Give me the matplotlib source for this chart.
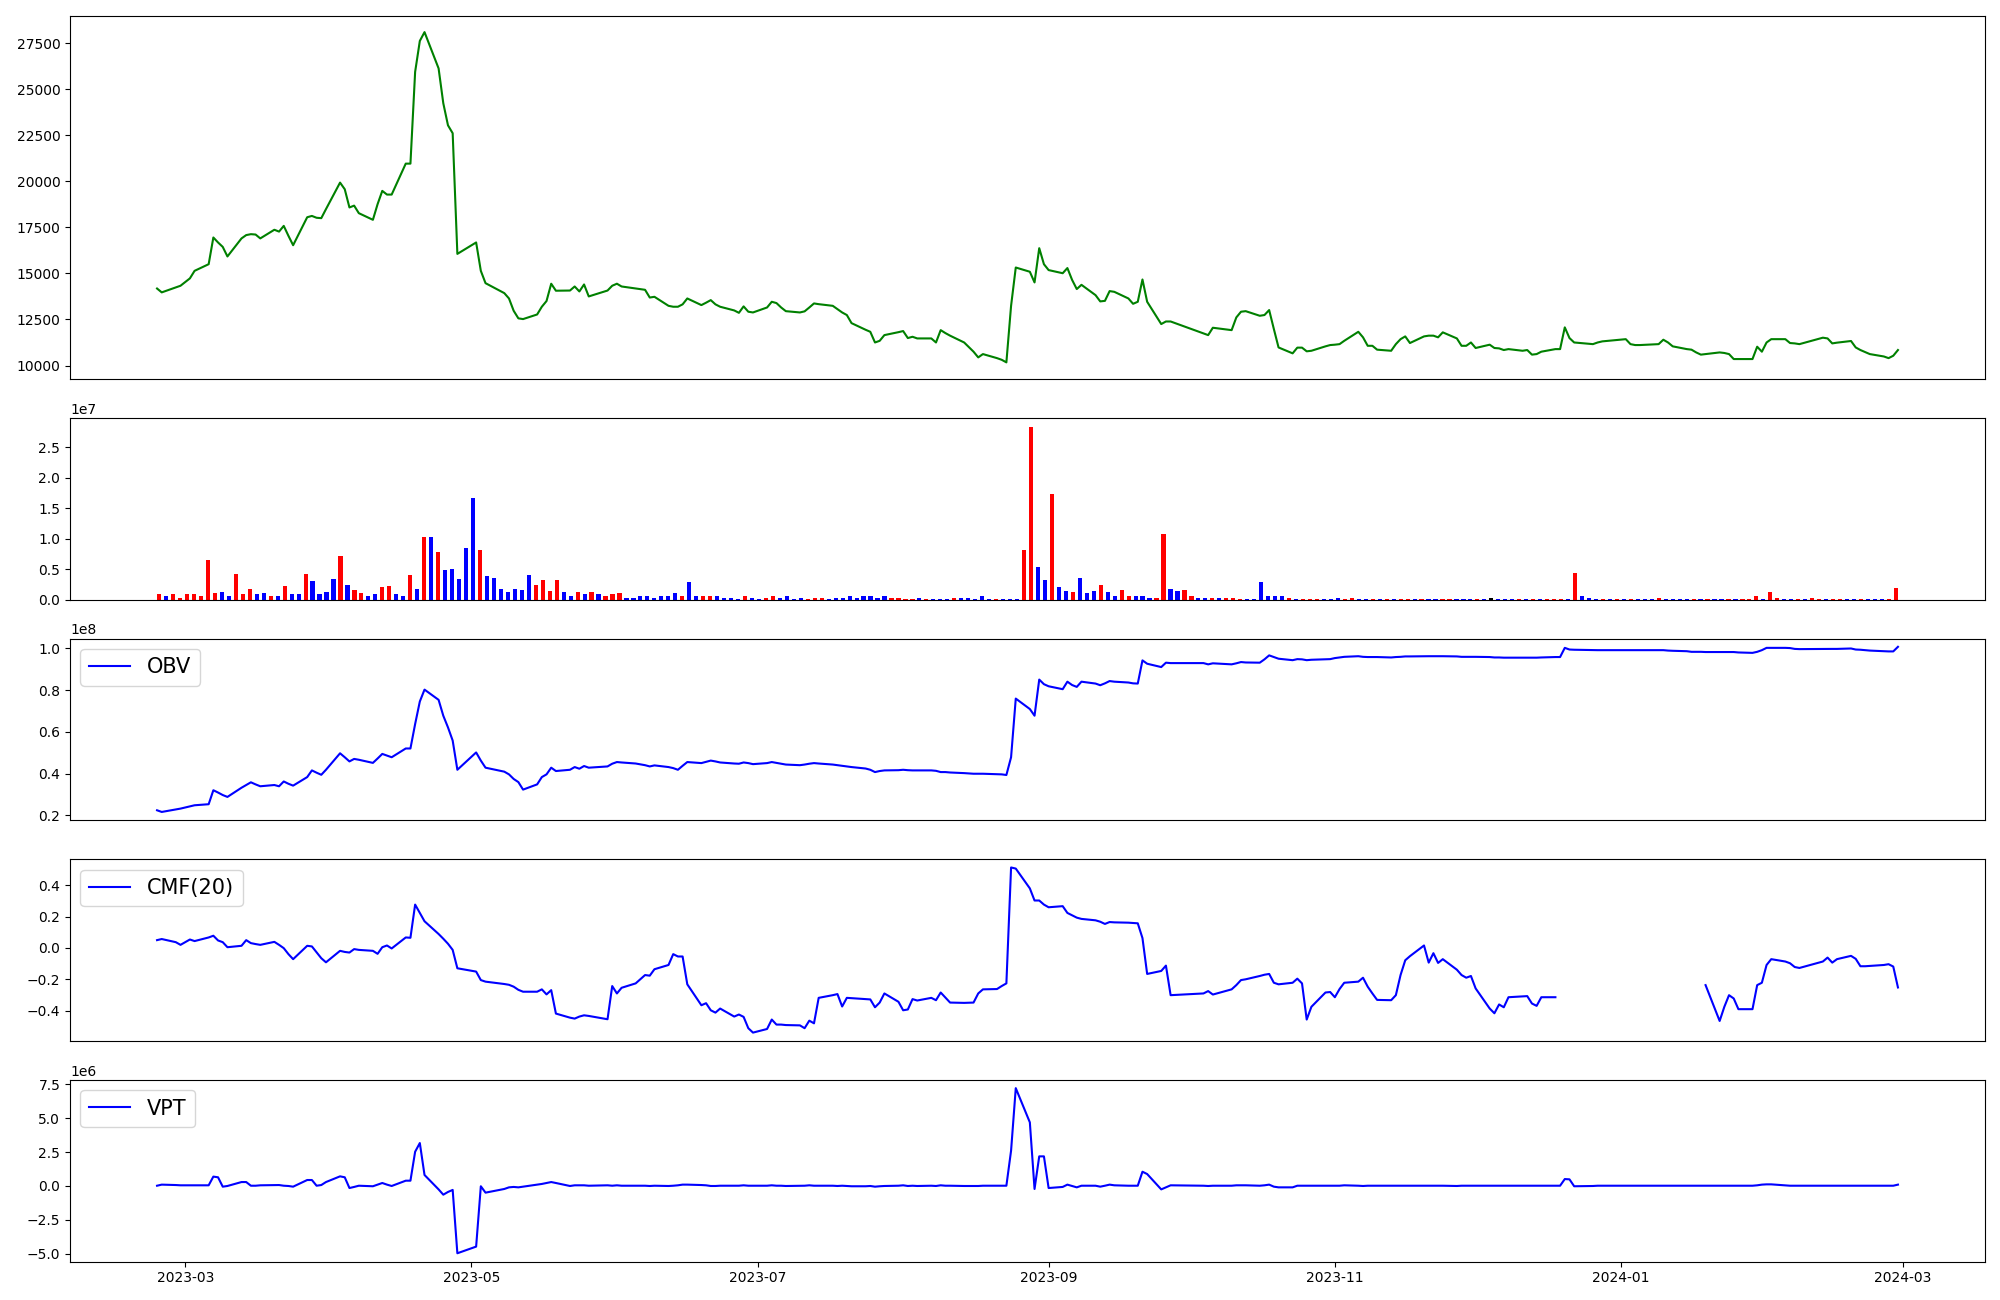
import numpy as np
import pandas as pd
import matplotlib
matplotlib.use('Agg')
from matplotlib import pyplot as plt

# KRX trading calendar, 2023-02-23 .. 2024-02-29
holidays = ['2023-03-01', '2023-05-01', '2023-05-05', '2023-05-29', '2023-06-06',
            '2023-08-15', '2023-09-28', '2023-09-29', '2023-10-02', '2023-10-03',
            '2023-10-09', '2023-12-25', '2023-12-29', '2024-01-01', '2024-02-09',
            '2024-02-12']
dates = pd.bdate_range('2023-02-23', '2024-02-29', freq='C', holidays=holidays)

nan = np.nan

# closing price, one list per month
close_feb23 = [14180, 13970, 14240, 14330]
close_mar23 = [14730, 15140, 15500, 16950, 16680, 16440, 15920, 16900, 17080, 17130, 17110,
               16900, 17370, 17270, 17580, 17040, 16530, 18050, 18120, 18020, 18000, 18490]
close_apr23 = [19930, 19570, 18580, 18680, 18270, 17910, 18760, 19480, 19280, 19280,
               20960, 20960, 25940, 27620, 28100, 26130, 24240, 23040, 22610, 16060]
close_may23 = [16680, 15140, 14470, 13930, 13640, 12970, 12560, 12520, 12770, 13190,
               13500, 14440, 14060, 14070, 14290, 14020, 14400, 13750, 14070, 14330]
close_jun23 = [14440, 14290, 14180, 14110, 13690, 13730, 13240, 13190, 13190, 13320, 13640,
               13280, 13410, 13550, 13320, 13190, 12990, 12860, 13210, 12920, 12880]
close_jul23 = [13150, 13460, 13390, 13150, 12950, 12880, 12940, 13150, 13370, 13330, 13240,
               13060, 12880, 12740, 12300, 11940, 11830, 11250, 11340, 11650, 11810]
close_aug23 = [11870, 11490, 11560, 11470, 11470, 11250, 11920, 11760, 11620, 11250, 10750,
               10440, 10620, 10400, 10310, 10170, 13240, 15320, 15090, 14510, 16370, 15500]
close_sep23 = [15180, 15010, 15290, 14650, 14150, 14380, 13820, 13480, 13510, 14040,
               14000, 13640, 13350, 13460, 14670, 13460, 12250, 12390, 12390]
close_oct23 = [11740, 11650, 12050, 11920, 12610, 12920, 12950, 12700, 12740, 13010,
               11980, 10980, 10660, 10970, 10970, 10770, 10800, 11040, 11110]
close_nov23 = [11130, 11160, 11340, 11830, 11530, 11070, 11070, 10860, 10800, 11160, 11430,
               11580, 11220, 11580, 11620, 11620, 11530, 11800, 11470, 11070, 11070, 11250]
close_dec23 = [10950, 11130, 10950, 10930, 10840, 10890, 10800, 10840, 10590, 10620,
               10750, 10890, 10890, 12070, 11490, 11250, 11160, 11250, 11310]
close_jan24 = [11430, 11160, 11110, 11110, 11150, 11160, 11400, 11250, 11040, 10890, 10860,
               10710, 10590, 10620, 10710, 10680, 10620, 10350, 10350, 10350, 11020, 10750]
close_feb24 = [11250, 11430, 11430, 11220, 11200, 11160, 11510, 11470, 11200, 11240,
               11330, 10980, 10840, 10730, 10620, 10490, 10400, 10530, 10840]

# volume in millions of shares, bar colour per day (R up, B down, K flat)
vol_feb23 = [0.83, 0.5, 0.83, 0.33]
vol_mar23 = [0.83, 0.83, 0.5, 6.48, 1.0, 1.16, 0.66, 4.15, 0.83, 1.66, 0.83,
             1.0, 0.66, 0.66, 2.16, 0.83, 0.83, 4.15, 2.99, 0.83, 1.16, 3.32]
vol_apr23 = [7.14, 2.33, 1.5, 1.0, 0.66, 0.83, 2.0, 2.16, 0.83, 0.66,
             3.99, 1.66, 10.3, 10.3, 7.8, 4.82, 4.98, 3.32, 8.47, 16.6]
vol_may23 = [8.14, 3.82, 3.49, 1.66, 1.16, 1.66, 1.5, 3.99, 2.33, 3.16,
             1.33, 3.16, 1.16, 0.66, 1.16, 0.83, 1.16, 0.83, 0.66, 0.83]
vol_jun23 = [1.0, 0.33, 0.33, 0.5, 0.5, 0.33, 0.5, 0.5, 1.0, 0.66, 2.82,
             0.5, 0.66, 0.5, 0.5, 0.33, 0.33, 0.17, 0.66, 0.33, 0.17]
vol_jul23 = [0.33, 0.5, 0.33, 0.5, 0.17, 0.33, 0.17, 0.33, 0.33, 0.17, 0.33,
             0.33, 0.66, 0.33, 0.5, 0.5, 0.33, 0.66, 0.33, 0.33, 0.17]
vol_aug23 = [0.17, 0.33, 0.17, 0.17, 0.17, 0.17, 0.33, 0.33, 0.33, 0.17, 0.5,
             0.17, 0.17, 0.17, 0.17, 0.17, 8.14, 28.4, 5.3, 3.16, 17.4, 2.0]
vol_sep23 = [1.33, 1.16, 3.49, 1.0, 1.33, 2.33, 1.16, 0.66, 1.5, 0.66,
             0.5, 0.5, 0.33, 0.33, 10.8, 1.66, 1.33, 1.5, 0.5]
vol_oct23 = [0.33, 0.33, 0.33, 0.33, 0.33, 0.33, 0.17, 0.17, 0.17, 2.82,
             0.5, 0.66, 0.5, 0.33, 0.17, 0.17, 0.17, 0.17, 0.17]
vol_nov23 = [0.04, 0.33, 0.17, 0.33, 0.17, 0.17, 0.04, 0.04, 0.04, 0.04, 0.17,
             0.17, 0.17, 0.17, 0.17, 0.04, 0.04, 0.17, 0.17, 0.17, 0.17, 0.17]
vol_dec23 = [0.17, 0.33, 0.17, 0.17, 0.17, 0.04, 0.17, 0.04, 0.17, 0.04,
             0.17, 0.17, 0.04, 4.32, 0.5, 0.33, 0.17, 0.17, 0.04]
vol_jan24 = [0.17, 0.17, 0.04, 0.04, 0.04, 0.17, 0.33, 0.17, 0.17, 0.17, 0.04,
             0.04, 0.04, 0.04, 0.04, 0.04, 0.04, 0.17, 0.04, 0.17, 0.5, 0.17]
vol_feb24 = [1.16, 0.33, 0.17, 0.17, 0.04, 0.17, 0.33, 0.17, 0.17, 0.04,
             0.17, 0.17, 0.17, 0.04, 0.17, 0.17, 0.17, 0.17, 1.83]
bar_dir = ('RBRR'
           'RRRRRBBRRRBBRBRBBRBBBB'
           'RBRRBBRRBBRBRBRBBBBB'
           'RBBBBBBBRRRRBBRBRBRR'
           'RBBBBBBBBRBBRRBBBBRBB'
           'RRBBBBRRRBBBBBBBBBRRR'
           'RBRBBBRBBBBBRBBBRRBBRB'
           'BRBBBRBBRRBBBRRBBRR'
           'BBRBRRRBBBBBBRBRRRB'
           'BBRRBBRBRBRRBRBBRRBBBR'
           'BKBBBRBRBRRRBRBBBRB'
           'RBRBBBRBBBBRBRBBRBRRRB'
           'RRBBRBRRBRRBBRBBBRR')

# on-balance volume, millions
obv_feb23 = [22.5, 21.7, 22.9, 23.3]
obv_mar23 = [24.4, 24.9, 25.4, 32.1, 31.0, 29.8, 28.9, 33.3, 34.6, 35.9, 34.9,
             34.0, 34.6, 34.0, 36.3, 35.2, 34.3, 38.4, 41.6, 40.5, 39.5, 41.9]
obv_apr23 = [49.8, 47.9, 45.9, 47.1, 46.7, 45.2, 47.3, 49.5, 48.7, 47.9,
             52.1, 52.1, 63.8, 74.6, 80.3, 75.4, 67.8, 62.2, 55.9, 41.9]
obv_may23 = [50.2, 46.3, 42.9, 41.0, 39.7, 37.5, 36.0, 32.4, 34.9, 38.4,
             39.7, 42.9, 41.3, 41.9, 43.2, 42.4, 43.7, 42.9, 43.5, 44.8]
obv_jun23 = [45.6, 45.4, 44.9, 44.1, 43.5, 44.0, 43.2, 42.7, 41.9, 43.8, 45.6,
             45.1, 45.7, 46.3, 45.9, 45.4, 44.9, 44.8, 45.4, 45.1, 44.6]
obv_jul23 = [45.1, 45.6, 45.2, 44.8, 44.4, 44.1, 44.4, 44.8, 45.1, 44.9, 44.4,
             44.1, 43.8, 43.5, 43.2, 42.5, 41.9, 40.8, 41.3, 41.6, 41.7]
obv_aug23 = [41.9, 41.7, 41.6, 41.6, 41.6, 41.4, 40.8, 40.8, 40.6, 40.3, 40.0,
             40.0, 40.0, 39.8, 39.7, 39.4, 47.9, 76.0, 71.0, 67.8, 85.1, 82.9]
obv_sep23 = [81.9, 80.5, 84.1, 82.5, 81.6, 84.1, 83.2, 82.4, 83.3, 84.4,
             84.1, 83.7, 83.3, 83.2, 94.3, 92.7, 91.1, 93.2, 93.0]
obv_oct23 = [93.0, 92.4, 92.9, 92.4, 92.9, 93.5, 93.3, 93.2, 94.8, 96.7,
             95.9, 95.1, 94.4, 94.9, 94.8, 94.4, 94.6, 94.8, 94.9]
obv_nov23 = [95.4, 95.7, 96.0, 96.3, 96.0, 95.9, 95.9, 95.9, 95.7, 95.9, 96.0,
             96.2, 96.2, 96.3, 96.3, 96.3, 96.3, 96.3, 96.2, 96.0, 96.0, 96.0]
obv_dec23 = [96.0, 95.9, 95.7, 95.7, 95.6, 95.6, 95.6, 95.6, 95.6, 95.6,
             95.7, 95.9, 95.9, 100.3, 99.5, 99.4, 99.2, 99.2, 99.2]
obv_jan24 = [99.2, 99.2, 99.2, 99.2, 99.2, 99.2, 99.2, 99.0, 98.9, 98.7, 98.4,
             98.4, 98.4, 98.3, 98.3, 98.3, 98.3, 98.3, 98.1, 97.9, 98.4, 99.2]
obv_feb24 = [100.3, 100.3, 100.3, 100.2, 99.8, 99.7, 99.8, 99.8, 99.8, 99.8,
             100.0, 99.5, 99.4, 99.2, 99.0, 98.7, 98.6, 98.6, 100.8]

# Chaikin money flow, 20 days
cmf_feb23 = [0.05, 0.057, 0.037, 0.02]
cmf_mar23 = [0.054, 0.044, 0.067, 0.078, 0.048, 0.037, 0.005, 0.014, 0.05, 0.031, 0.025,
             0.02, 0.039, 0.02, -0.001, -0.039, -0.071, 0.014, 0.01, -0.027, -0.065, -0.091]
cmf_apr23 = [-0.018, -0.025, -0.029, -0.007, -0.012, -0.018, -0.037, 0.005, 0.016, -0.003,
             0.067, 0.065, 0.276, 0.223, 0.17, 0.089, 0.059, 0.027, -0.012, -0.129]
cmf_may23 = [-0.15, -0.204, -0.214, -0.229, -0.234, -0.246, -0.266, -0.278, -0.278, -0.263,
             -0.295, -0.268, -0.417, -0.443, -0.449, -0.436, -0.428, -0.432, -0.453, -0.242]
cmf_jun23 = [-0.289, -0.253, -0.225, -0.172, -0.176, -0.135, -0.108, -0.039, -0.054, -0.054,
             -0.231, -0.364, -0.351, -0.396, -0.411, -0.385, -0.436, -0.423, -0.438, -0.51,
             -0.538]
cmf_jul23 = [-0.515, -0.455, -0.487, -0.487, -0.49, -0.492, -0.51, -0.462, -0.479, -0.317,
             -0.3, -0.293, -0.372, -0.317, -0.319, -0.325, -0.327, -0.377, -0.347, -0.289,
             -0.342]
cmf_aug23 = [-0.396, -0.391, -0.325, -0.334, -0.317, -0.332, -0.283, -0.315, -0.347, -0.349,
             -0.347, -0.289, -0.263, -0.261, -0.242, -0.225, 0.512, 0.505, 0.379, 0.302,
             0.302, 0.276]
cmf_sep23 = [0.259, 0.266, 0.223, 0.208, 0.193, 0.185, 0.176, 0.167, 0.153, 0.165,
             0.163, 0.161, 0.159, 0.157, 0.063, -0.165, -0.146, -0.112, -0.3]
cmf_oct23 = [-0.289, -0.274, -0.296, -0.263, -0.236, -0.204, -0.199, -0.178, -0.17, -0.165,
             -0.221, -0.231, -0.221, -0.195, -0.225, -0.455, -0.374, -0.283, -0.28]
cmf_nov23 = [-0.313, -0.261, -0.221, -0.214, -0.189, -0.246, -0.289, -0.33, -0.332, -0.3,
             -0.172, -0.078, -0.052, 0.016, -0.093, -0.033, -0.095, -0.071, -0.138, -0.172,
             -0.189, -0.178]
cmf_dec23 = [-0.257, -0.385, -0.415, -0.359, -0.377, -0.313, -0.308, -0.306, -0.353, -0.368,
             -0.313, -0.313, nan, nan, nan, nan, nan, nan, nan]
cmf_jan24 = [nan, nan, nan, nan, nan, nan, nan, nan, nan, nan, nan, nan, nan,
             -0.236, -0.464, -0.374, -0.3, -0.321, -0.389, -0.389, -0.236, -0.221]
cmf_feb24 = [-0.108, -0.071, -0.086, -0.097, -0.121, -0.127, -0.086, -0.061, -0.093, -0.071,
             -0.05, -0.069, -0.116, -0.116, -0.114, -0.108, -0.103, -0.118, -0.251]

# volume price trend, millions
vpt_feb23 = [0.02, 0.1, 0.07, 0.05]
vpt_mar23 = [0.05, 0.05, 0.05, 0.69, 0.64, -0.05, 0.0, 0.29, 0.29, 0.02, 0.02,
             0.05, 0.07, 0.07, 0.02, 0.0, -0.05, 0.44, 0.44, 0.02, 0.07, 0.29]
vpt_apr23 = [0.71, 0.64, -0.15, -0.07, 0.02, -0.02, 0.1, 0.22, 0.1, 0.0,
             0.39, 0.39, 2.52, 3.16, 0.81, -0.25, -0.64, -0.44, -0.29, -4.95]
vpt_may23 = [-4.46, -0.02, -0.49, -0.22, -0.1, -0.07, -0.1, -0.05, 0.1, 0.15,
             0.22, 0.29, 0.22, 0.0, 0.05, 0.05, 0.05, 0.02, 0.05, 0.02]
vpt_jun23 = [0.05, 0.02, 0.02, 0.02, 0.0, 0.02, 0.0, 0.02, 0.05, 0.1, 0.1,
             0.07, 0.05, 0.0, 0.0, 0.02, 0.02, 0.02, 0.05, 0.02, 0.02]
vpt_jul23 = [0.02, 0.05, 0.02, 0.02, 0.0, 0.02, 0.02, 0.05, 0.02, 0.02, 0.02,
             0.0, 0.02, 0.0, -0.02, -0.02, 0.0, -0.05, -0.02, 0.0, 0.02]
vpt_aug23 = [0.05, 0.0, 0.02, 0.0, 0.02, 0.0, 0.05, 0.02, 0.02, 0.0, 0.0,
             0.0, 0.02, 0.02, 0.02, 0.02, 2.6, 7.2, 4.68, -0.22, 2.18, 2.18]
vpt_sep23 = [-0.15, -0.07, 0.1, 0.0, -0.1, 0.02, 0.02, -0.05, 0.02, 0.1,
             0.05, 0.02, 0.02, 0.02, 1.05, 0.88, -0.25, -0.1, 0.05]
vpt_oct23 = [0.02, 0.0, 0.02, 0.02, 0.05, 0.05, 0.05, 0.02, 0.05, 0.1,
             -0.05, -0.1, -0.1, 0.02, 0.02, 0.02, 0.02, 0.02, 0.02]
vpt_nov23 = [0.02, 0.02, 0.05, 0.02, 0.0, 0.02, 0.02, 0.02, 0.02, 0.02, 0.02,
             0.02, 0.02, 0.02, 0.02, 0.02, 0.02, 0.02, 0.0, 0.02, 0.02, 0.02]
vpt_dec23 = [0.02, 0.02, 0.02, 0.02, 0.02, 0.02, 0.02, 0.02, 0.02, 0.02,
             0.02, 0.02, 0.02, 0.51, 0.49, -0.02, 0.0, 0.02, 0.02]
vpt_jan24 = [0.02, 0.02, 0.02, 0.02, 0.02, 0.02, 0.02, 0.02, 0.02, 0.02, 0.02,
             0.02, 0.02, 0.02, 0.02, 0.02, 0.02, 0.02, 0.02, 0.02, 0.05, 0.1]
vpt_feb24 = [0.12, 0.12, 0.05, 0.02, 0.02, 0.02, 0.02, 0.02, 0.02, 0.02,
             0.02, 0.02, 0.02, 0.02, 0.02, 0.02, 0.02, 0.02, 0.1]

months = ['feb23', 'mar23', 'apr23', 'may23', 'jun23', 'jul23', 'aug23',
          'sep23', 'oct23', 'nov23', 'dec23', 'jan24', 'feb24']


def join(prefix):
    return np.concatenate([globals()[prefix + '_' + m] for m in months])


close = join('close')
volume = join('vol') * 1e6
obv = join('obv') * 1e6
cmf = join('cmf')
vpt = join('vpt') * 1e6
bar_colors = [{'R': 'red', 'B': 'blue', 'K': 'black'}[c] for c in bar_dir]

fig, axes = plt.subplots(5, 1, figsize=(20, 13), dpi=100,
                         gridspec_kw={'height_ratios': [2, 1, 1, 1, 1]})
fig.subplots_adjust(left=0.035, right=0.9925, top=0.988, bottom=0.0296, hspace=0.179)
ax_p, ax_v, ax_o, ax_c, ax_t = axes

ax_p.plot(dates, close, color='green')
ax_p.set_xticks([])

# volume bars are drawn against the day index
ax_v.bar(np.arange(len(volume)), volume, color=bar_colors, width=0.6)
ax_v.set_xticks([])

ax_o.plot(dates, obv, color='blue', label='OBV')
ax_o.legend(loc='upper left', fontsize=15)
ax_o.set_xticks([])

ax_c.plot(dates, cmf, color='blue', label='CMF(20)')
ax_c.legend(loc='upper left', fontsize=15)
ax_c.set_xticks([])

ax_t.plot(dates, vpt, color='blue', label='VPT')
ax_t.legend(loc='upper left', fontsize=15)
ax_t.set_xlim(ax_p.get_xlim())

fig.savefig('out.png')
